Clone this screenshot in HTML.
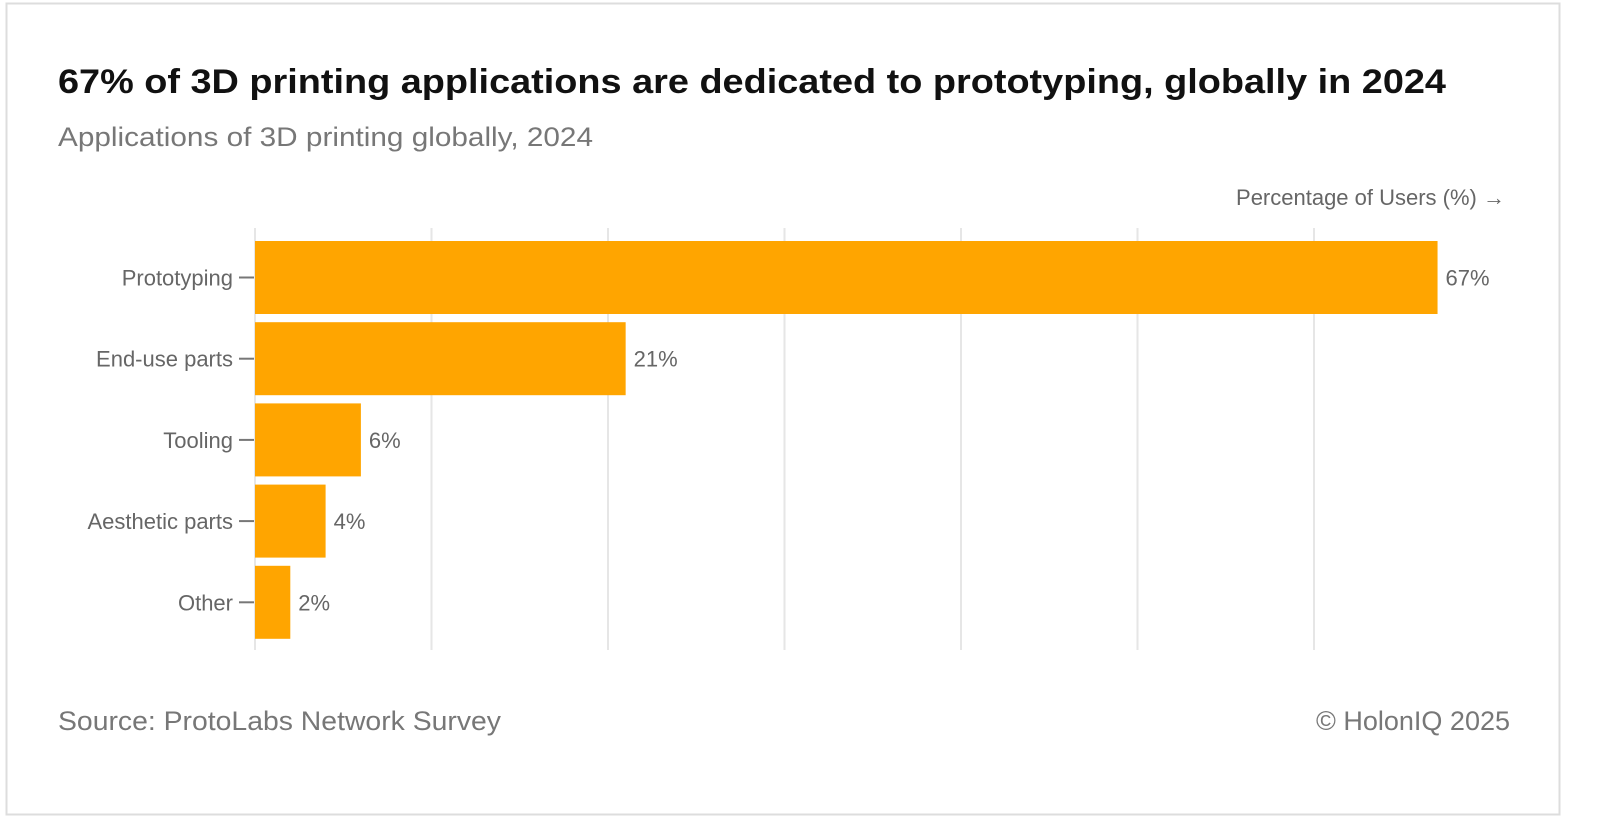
<!DOCTYPE html>
<html><head><meta charset="utf-8"><style>
html,body{margin:0;padding:0;background:#fff;}
svg{display:block;font-family:"Liberation Sans",sans-serif;}
</style></head><body>
<svg width="1600" height="833" viewBox="0 0 1600 833">
<rect x="6.5" y="3.5" width="1553" height="811" fill="#fff" stroke="#ddd" stroke-width="2"/>
<text x="58" y="93" font-size="34" font-weight="600" fill="#111" textLength="1388" lengthAdjust="spacingAndGlyphs">67% of 3D printing applications are dedicated to prototyping, globally in 2024</text>
<text x="58" y="146" font-size="27" fill="#777" textLength="535" lengthAdjust="spacingAndGlyphs">Applications of 3D printing globally, 2024</text>
<text x="1505" y="205" font-size="22" fill="#666" text-anchor="end">Percentage of Users (%) →</text>
<g id="grid"></g>
<g id="bars"></g>
<text x="58" y="730" font-size="27" fill="#777" textLength="443" lengthAdjust="spacingAndGlyphs">Source: ProtoLabs Network Survey</text>
<text x="1510" y="730" font-size="27" fill="#777" text-anchor="end">© HolonIQ 2025</text>
</svg>
<script>
const categories = ["Prototyping","End-use parts","Tooling","Aesthetic parts","Other"];
const values = [67,21,6,4,2];
const labels = ["67%","21%","6%","4%","2%"];
const gridTicks = [0,10,20,30,40,50,60];
const NS="http://www.w3.org/2000/svg";
const x0=255, pxPer=17.65;
const xs=v=>x0+v*pxPer;
const top0=241, step=81.2, bh=73;
const ys=i=>top0+i*step;
const grid=document.getElementById('grid'), bars=document.getElementById('bars');
function mk(tag,attrs,parent){const e=document.createElementNS(NS,tag);for(const k in attrs)e.setAttribute(k,attrs[k]);parent.appendChild(e);return e;}
gridTicks.forEach(t=>{
  const l=mk('line',{x1:xs(t),x2:xs(t),y1:228,y2:650,stroke:'#e6e6e6','stroke-width':2},grid);
  
  
});
categories.forEach((c,i)=>{
  const y=ys(i);
  const r=mk('rect',{x:x0,y:y,width:xs(values[i])-x0,height:bh,fill:'#ffa500'},bars);
  
  
  const tk=mk('line',{x1:239,x2:254,y1:y+bh/2,y2:y+bh/2,stroke:'#777','stroke-width':2},bars);
  
  
  const cl=mk('text',{x:233,y:y+bh/2+8,'font-size':22,fill:'#666','text-anchor':'end'},bars);
  cl.textContent=c;
  
  
  const vl=mk('text',{x:xs(values[i])+8,y:y+bh/2+8,'font-size':22,fill:'#666'},bars);
  vl.textContent=labels[i];
  
  
});
</script>
</body></html>
